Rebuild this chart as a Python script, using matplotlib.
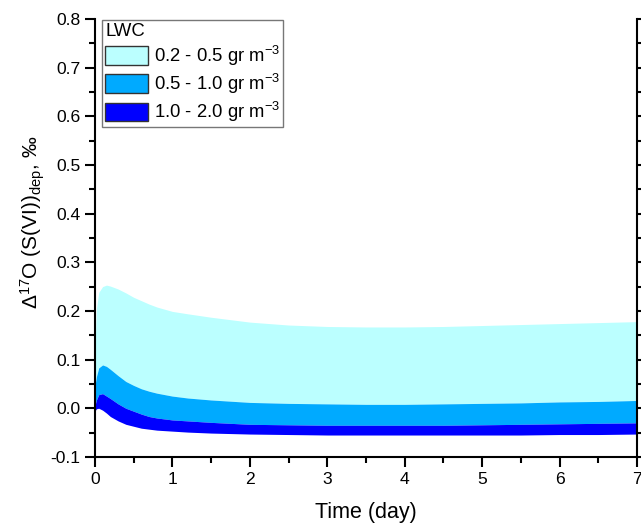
import matplotlib
matplotlib.use("Agg")
import matplotlib.pyplot as plt
from matplotlib.patches import Patch
from matplotlib.ticker import MultipleLocator, FormatStrFormatter

plt.rcParams['font.family'] = ['Liberation Sans', 'DejaVu Sans']
plt.rcParams['mathtext.fontset'] = 'custom'
plt.rcParams['mathtext.rm'] = 'Liberation Sans'
plt.rcParams['mathtext.it'] = 'Liberation Sans:italic'
plt.rcParams['mathtext.bf'] = 'Liberation Sans:bold'

# Time (day)
time = [0, 0.02, 0.05, 0.1, 0.15, 0.2, 0.3, 0.4, 0.5, 0.6, 0.7, 0.8, 1.0, 1.2, 1.5,
        2.0, 2.5, 3.0, 3.5, 4.0, 4.5, 5.0, 5.5, 6.0, 6.5, 7.0]

# Δ17O(S(VI))dep at the LWC boundaries
lwc_02 = [0.120, 0.205, 0.238, 0.250, 0.253, 0.251, 0.245, 0.237, 0.228, 0.221, 0.214, 0.208,
          0.199, 0.194, 0.187, 0.177, 0.171, 0.168, 0.167, 0.167, 0.168, 0.170, 0.172, 0.174,
          0.176, 0.178]
lwc_05 = [0.045, 0.065, 0.083, 0.089, 0.086, 0.080, 0.067, 0.055, 0.047, 0.040, 0.035, 0.031,
          0.025, 0.021, 0.017, 0.012, 0.010, 0.009, 0.008, 0.008, 0.009, 0.010, 0.011, 0.013,
          0.014, 0.016]
lwc_10 = [0.005, 0.017, 0.028, 0.030, 0.025, 0.020, 0.009, 0.000, -0.006, -0.012, -0.017, -0.020,
          -0.024, -0.026, -0.029, -0.033, -0.034, -0.035, -0.035, -0.035, -0.035, -0.034, -0.033,
          -0.032, -0.031, -0.030]
lwc_20 = [-0.006, -0.001, 0.000, -0.004, -0.010, -0.017, -0.026, -0.033, -0.037, -0.041, -0.043,
          -0.045, -0.047, -0.049, -0.051, -0.053, -0.054, -0.055, -0.055, -0.055, -0.055, -0.055,
          -0.055, -0.054, -0.054, -0.053]

labels = ['0.2 - 0.5 gr m$^{\\mathregular{-3}}$',
          '0.5 - 1.0 gr m$^{\\mathregular{-3}}$',
          '1.0 - 2.0 gr m$^{\\mathregular{-3}}$']
colors = ['#BBFFFF', '#00AAFF', '#0000FF']

fig = plt.figure(figsize=(6.41, 5.24), dpi=100)
ax = fig.add_axes([0.148, 0.128, 0.846, 0.836])

bounds = [lwc_02, lwc_05, lwc_10, lwc_20]
for i in range(3):
    ax.fill_between(time, bounds[i + 1], bounds[i], color=colors[i], lw=0)

ax.set_xlim(0, 7)
ax.set_ylim(-0.1, 0.8)
ax.xaxis.set_major_locator(MultipleLocator(1))
ax.xaxis.set_minor_locator(MultipleLocator(0.5))
ax.yaxis.set_major_locator(MultipleLocator(0.1))
ax.yaxis.set_minor_locator(MultipleLocator(0.05))
ax.yaxis.set_major_formatter(FormatStrFormatter('%.1f'))

ax.spines['top'].set_visible(False)
for s in ['left', 'right', 'bottom']:
    ax.spines[s].set_linewidth(1.5)
ax.tick_params(which='both', direction='out', width=1.5, labelsize=12.6,
               right=True, labelright=False, top=False)
ax.tick_params(which='major', length=7)
ax.tick_params(which='minor', length=4)

ax.set_xlabel('Time (day)', fontsize=15.5, labelpad=11)
ax.set_ylabel('Δ$^{\\mathregular{17}}$O (S(VI))$_{\\mathregular{dep}}$, ‰', fontsize=15)
ax.yaxis.set_label_coords(-0.088, 0.535)

handles = [Patch(facecolor=c, edgecolor='#333333', linewidth=1.0) for c in colors]
leg = ax.legend(handles, labels, title='LWC', loc='upper left',
                bbox_to_anchor=(0.014, 0.998), borderaxespad=0,
                fontsize=13.3, title_fontsize=13.3, alignment='left',
                frameon=True, fancybox=False,
                handlelength=2.33, handleheight=1.15, handletextpad=0.3,
                borderpad=0.15, labelspacing=0.22)
leg.get_frame().set_edgecolor('#555555')
leg.get_frame().set_linewidth(1.0)

fig.savefig('out.png', dpi=100)
